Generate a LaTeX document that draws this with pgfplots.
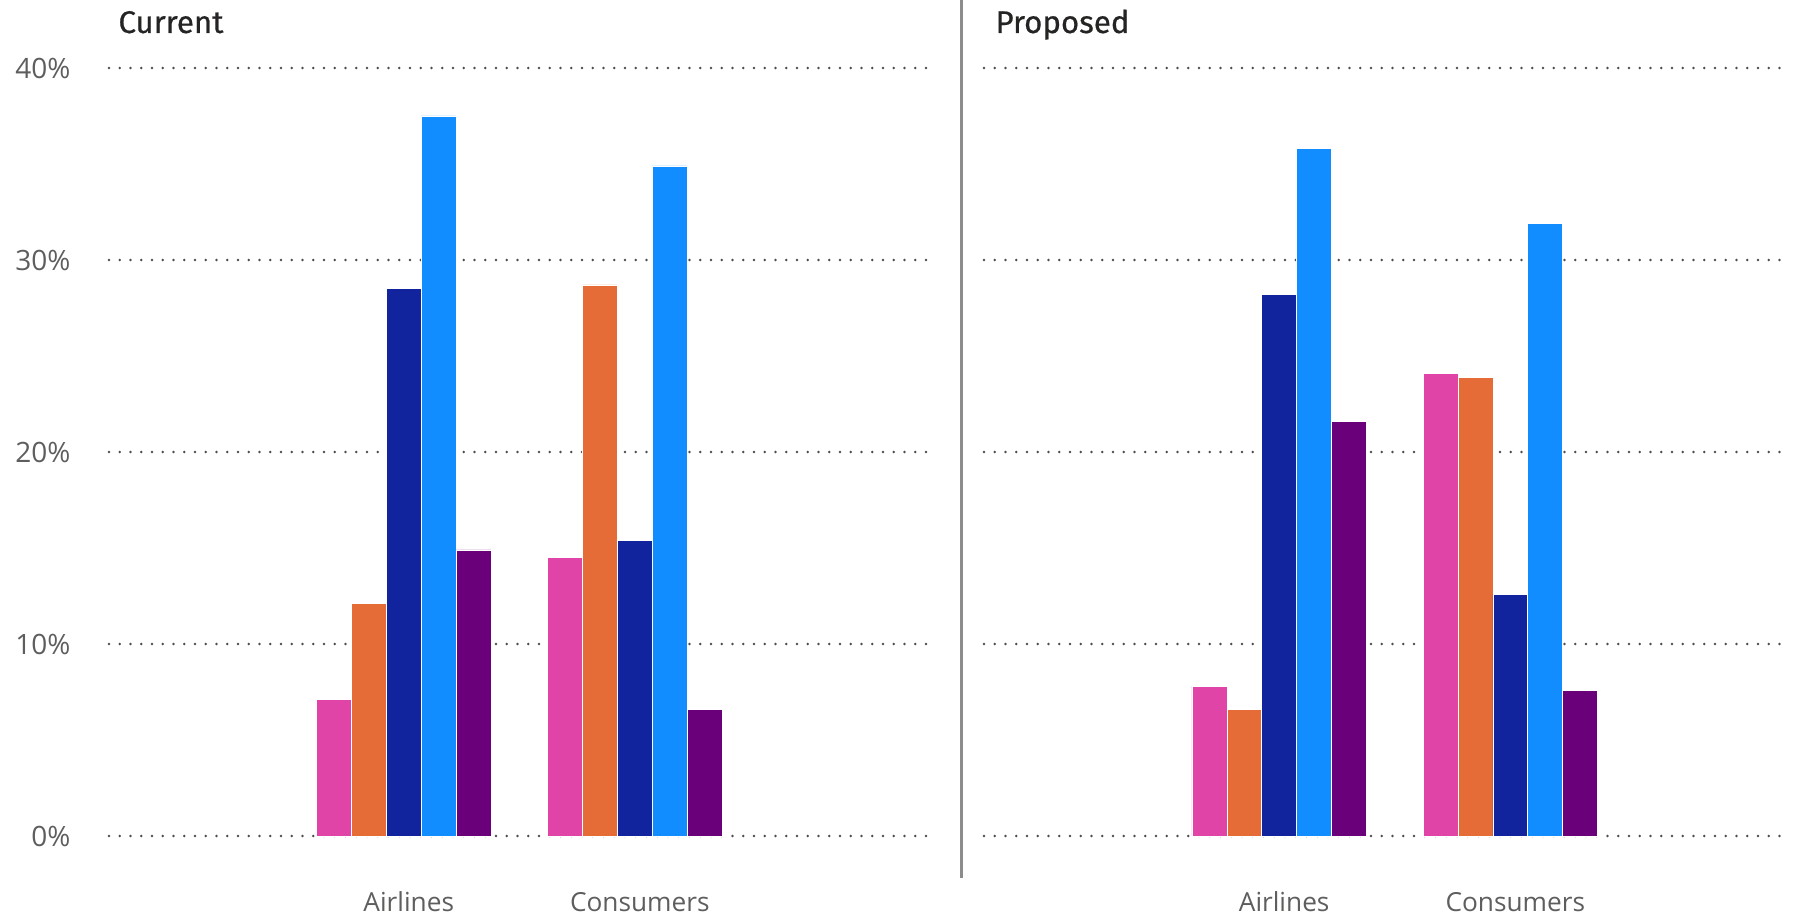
\documentclass[border=0pt]{standalone}
\usepackage{pgfplots}
\pgfplotsset{compat=1.18}
\usepackage{fontspec}
\setmainfont{Open Sans}
\newfontfamily\titlefont[FakeBold=0.6]{Fira Sans}
\definecolor{cpink}{HTML}{E044A7}
\definecolor{corange}{HTML}{E66C37}
\definecolor{cnavy}{HTML}{12239E}
\definecolor{cblue}{HTML}{118DFF}
\definecolor{cpurple}{HTML}{6B007B}
\definecolor{lblgray}{HTML}{605E5C}
\definecolor{titlegray}{HTML}{252423}

\pgfplotstableread{
cat pink orange navy blue purple
0 7.1 12.1 28.5 37.5 14.9
1 14.5 28.7 15.4 34.9 6.6
}\current
\pgfplotstableread{
cat pink orange navy blue purple
0 7.8 6.6 28.2 35.8 21.6
1 24.1 23.9 12.6 31.9 7.6
}\proposed

\pgfplotsset{
  panel/.style={
    scale only axis,
    anchor=south west,
    height=307.2pt,
    ybar=0pt, bar width=0.151,
    ymin=0, ymax=40,
    xtick={0,1}, xticklabels={Airlines,Consumers},
    ytick={0,10,20,30,40},
    axis line style={draw=none},
    major tick length=0pt,
    ymajorgrids,
    major grid style={black!70, line width=1.1pt, dash pattern=on 0pt off 4.3pt, line cap=round},
    tick label style={font=\fontsize{10.5}{12}\selectfont, text=lblgray},
    xticklabel style={anchor=base, yshift=-30.4pt, xshift=2pt},
    yticklabel style={anchor=east, inner sep=0pt, xshift=-15.2pt, font=\fontsize{11.2}{13}\selectfont},
    /pgf/number format/assume math mode=true,
    yticklabel={\pgfmathprintnumber{\tick}\%},
    clip=false,
  },
  every axis plot/.append style={draw=white, line width=0.25pt},
}

\begin{document}
\begin{tikzpicture}
\useasboundingbox (0,0) rectangle (717.6pt,366pt);
\begin{axis}[panel, at={(43.6pt,31.6pt)}, width=329.6pt, xmin=-1.276, xmax=2.291]
  \addplot[fill=cpink] table[x=cat, y=pink] {\current};
  \addplot[fill=corange] table[x=cat, y=orange] {\current};
  \addplot[fill=cnavy] table[x=cat, y=navy] {\current};
  \addplot[fill=cblue] table[x=cat, y=blue] {\current};
  \addplot[fill=cpurple] table[x=cat, y=purple] {\current};
\end{axis}
\begin{axis}[panel, at={(393.6pt,31.6pt)}, width=322.4pt, xmin=-1.277, xmax=2.21, yticklabels={}]
  \addplot[fill=cpink] table[x=cat, y=pink] {\proposed};
  \addplot[fill=corange] table[x=cat, y=orange] {\proposed};
  \addplot[fill=cnavy] table[x=cat, y=navy] {\proposed};
  \addplot[fill=cblue] table[x=cat, y=blue] {\proposed};
  \addplot[fill=cpurple] table[x=cat, y=purple] {\proposed};
\end{axis}
\draw[black!45, line width=1.1pt] (384.7pt,366pt) -- (384.7pt,14.8pt);
\node[anchor=base west, inner sep=0pt, font=\titlefont\fontsize{12.5}{14}\selectfont, text=titlegray] at (47.2pt,352.8pt) {Current};
\node[anchor=base west, inner sep=0pt, font=\titlefont\fontsize{12.5}{14}\selectfont, text=titlegray] at (398pt,352.8pt) {Proposed};
\end{tikzpicture}
\end{document}
